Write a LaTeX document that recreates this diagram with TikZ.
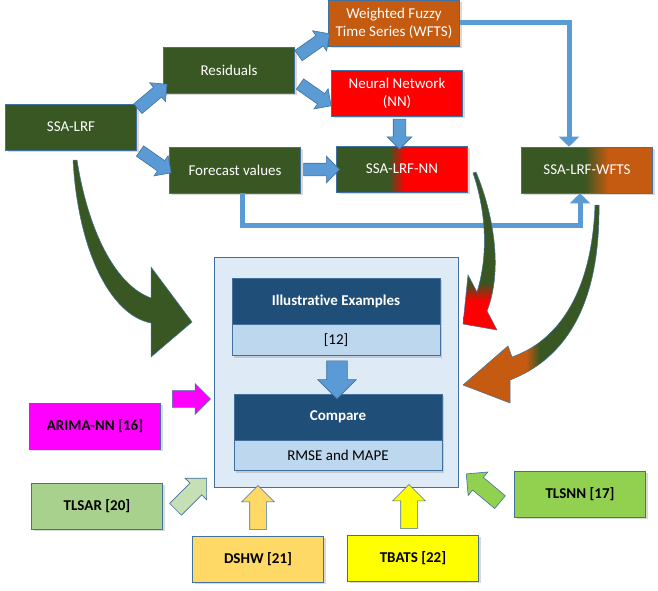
\documentclass[tikz,border=0pt]{standalone}
\usepackage{fontspec}
\setmainfont{Carlito}[Ligatures=NoCommon]
\usetikzlibrary{shapes,arrows.meta,positioning,calc,shadows}
\definecolor{ssagreen}{RGB}{56,87,35}
\definecolor{wftscolor}{RGB}{197,90,17}
\definecolor{nncolor}{RGB}{255,0,0}
\definecolor{edgecolor}{RGB}{65,113,156}
\definecolor{arrowblue}{RGB}{91,155,213}
\definecolor{navycolor}{RGB}{31,78,121}
\definecolor{palecolor}{RGB}{189,215,238}
\definecolor{panelcolor}{RGB}{222,235,247}
\definecolor{arimacolor}{RGB}{255,0,255}
\definecolor{tlsarcolor}{RGB}{169,209,142}
\definecolor{tlsarlight}{RGB}{197,224,180}
\definecolor{dshwcolor}{RGB}{255,217,102}
\definecolor{tbatscolor}{RGB}{255,255,0}
\definecolor{tlsnncolor}{RGB}{146,208,80}

% colour blends for the combined models
\pgfdeclarehorizontalshading{nnblend}{100bp}{color(0bp)=(ssagreen); color(45bp)=(ssagreen); color(51bp)=(nncolor); color(100bp)=(nncolor)}
\pgfdeclarehorizontalshading{wftsblend}{100bp}{color(0bp)=(ssagreen); color(49bp)=(ssagreen); color(58bp)=(wftscolor); color(100bp)=(wftscolor)}
\pgfdeclareverticalshading{nnfall}{100bp}{color(0bp)=(nncolor); color(34bp)=(nncolor); color(40bp)=(ssagreen); color(100bp)=(ssagreen)}
\pgfdeclarehorizontalshading{wftsfall}{100bp}{color(0bp)=(wftscolor); color(48bp)=(wftscolor); color(53bp)=(ssagreen); color(100bp)=(ssagreen)}

\tikzset{
  stagebox/.style={draw=edgecolor, line width=0.6pt, minimum width=131pt, minimum height=46pt,
    inner sep=2pt, align=center, text=white, drop shadow={opacity=0.3}},
  methodbox/.style={stagebox, text=black, font=\fontsize{15}{18}\selectfont\bfseries},
  navybox/.style={draw=edgecolor, fill=navycolor, text=white, minimum width=208pt, minimum height=46pt,
    font=\fontsize{15}{18}\selectfont\bfseries, drop shadow={opacity=0.3}},
  refbox/.style={draw=edgecolor, fill=palecolor, minimum width=208pt, minimum height=31pt,
    drop shadow={opacity=0.3}},
  blockarrow/.style={single arrow, draw=edgecolor, fill=arrowblue, line width=0.6pt, inner xsep=0pt,
    inner ysep=6pt, single arrow head extend=6pt, minimum height=38pt},
  elbow/.style={draw=arrowblue, line width=5pt, -{Triangle[width=20pt,length=10pt]}},
  curvearrow/.style={draw=edgecolor, line width=0.5pt}
}

\begin{document}
\begin{tikzpicture}[x=1pt, y=-1pt, font=\fontsize{15}{18}\selectfont]
    \useasboundingbox (0,0) rectangle (658,591);

    % Upper row: SSA-LRF and its parts
    \node[stagebox, fill=ssagreen] (ssa) at (71,127) {SSA-LRF};
    \node[stagebox, fill=ssagreen] (res) at (229,70) {Residuals};
    \node[stagebox, fill=ssagreen] (fc) at (235,170) {Forecast values};
    \node[stagebox, fill=wftscolor] (wfts) at (394,23) {Weighted Fuzzy\\Time Series (WFTS)};
    \node[stagebox, fill=nncolor] (nn) at (397,93) {Neural Network\\(NN)};
    \node[stagebox, shading=nnblend] (ssann) at (402,169) {SSA-LRF-NN};
    \node[stagebox, shading=wftsblend] (ssawfts) at (587,170) {SSA-LRF-WFTS};

    \node[blockarrow, rotate=40] (a1) at ($(ssa.north east)!.5!(res.south west)$) {};
    \node[blockarrow, rotate=-35] (a2) at ($(ssa.south east)!.5!(fc.west)$) {};
    \node[blockarrow, rotate=35] (a3) at ($(res.north east)!.5!(wfts.south west)$) {};
    \node[blockarrow, rotate=-35] (a4) at ($(res.south east)!.5!(nn.west)$) {};
    \node[blockarrow, rotate=-90, minimum height=30pt] (a5) at ($(nn.south)!.5!(ssann.north)$) {};
    \node[blockarrow, minimum height=36pt, single arrow head extend=7pt] (a6)
        at ($(fc.east)!.5!(ssann.west)$) {};

    \draw[elbow] (wfts.east) -| ($(ssawfts.north)+(-18,0)$);
    \draw[elbow] ($(fc.south)+(7,0)$) -- ++(0,32) -| ($(ssawfts.south)+(-7,0)$);

    % Evaluation panel
    \node[draw=edgecolor, fill=panelcolor, line width=0.8pt, minimum width=244pt, minimum height=230pt] (panel) at (336,372) {};
    \node[navybox] (ie) at (336,301) {Illustrative Examples};
    \node[refbox, below=0pt of ie] (ieref) {[12]};
    \node[navybox] (cmp) at (338,417) {Compare};
    \node[refbox, below=0pt of cmp, minimum height=30pt] (cmpref) {RMSE and MAPE};
    \node[blockarrow, rotate=-90, inner ysep=10pt, single arrow head extend=9pt] (a7)
        at ($(ieref.south)!.5!(cmp.north)$) {};

    % Curved arrows into the panel
    \path[curvearrow, fill=ssagreen] (73,160) .. controls (78,250) and (110,315) .. (151,323) -- (151,357) -- (192,322)
        -- (151,267) -- (151,298) .. controls (115,285) and (88,230) .. (77,160) -- cycle;
    \path[curvearrow, shading=nnfall] (476,172) .. controls (490,205) and (505,265) .. (487,311) -- (497,330) -- (463,324)
        -- (468,275) -- (477,292) .. controls (490,250) and (484,205) .. (473,173) -- cycle;
    \path[curvearrow, shading=wftsfall] (599,205) .. controls (600,290) and (575,355) .. (510,380) -- (510,403) -- (463,385)
        -- (508,346) -- (512,357) .. controls (560,340) and (592,290) .. (595,205) -- cycle;

    % Methods compared
    \foreach \name/\x/\y/\col/\label in {arima/95/426/arimacolor/{ARIMA-NN [16]}, tlsar/97/506/tlsarcolor/{TLSAR [20]},
        dshw/258/559/dshwcolor/{DSHW [21]}, tbats/413/558/tbatscolor/{TBATS [22]}, tlsnn/580/494/tlsnncolor/{TLSNN [17]}}{
        \node[methodbox, fill=\col] (\name) at (\x,\y) {\label};
    }
    \node[blockarrow, fill=arimacolor, inner ysep=8pt, single arrow head extend=7pt] (b1)
        at ($(arima.east)!.5!(panel.west)$) {};
    \node[blockarrow, fill=tlsarlight, rotate=45, inner ysep=8pt, minimum height=44pt, single arrow head extend=7pt] (b2)
        at ($(tlsar.east)!.5!(panel.south west)$) {};
    \node[blockarrow, fill=dshwcolor, rotate=90, inner ysep=8pt, minimum height=44pt, single arrow head extend=8pt] (b3)
        at ($(dshw.north)+(0,-24)$) {};
    \node[blockarrow, fill=tbatscolor, rotate=90, inner ysep=8pt, minimum height=44pt, single arrow head extend=8pt] (b4)
        at ($(tbats.north)+(-4,-24)$) {};
    \node[blockarrow, fill=tlsnncolor, rotate=140, inner ysep=8pt, minimum height=44pt, single arrow head extend=7pt] (b5)
        at ($(tlsnn.west)!.5!(panel.south east)$) {};
\end{tikzpicture}
\end{document}
